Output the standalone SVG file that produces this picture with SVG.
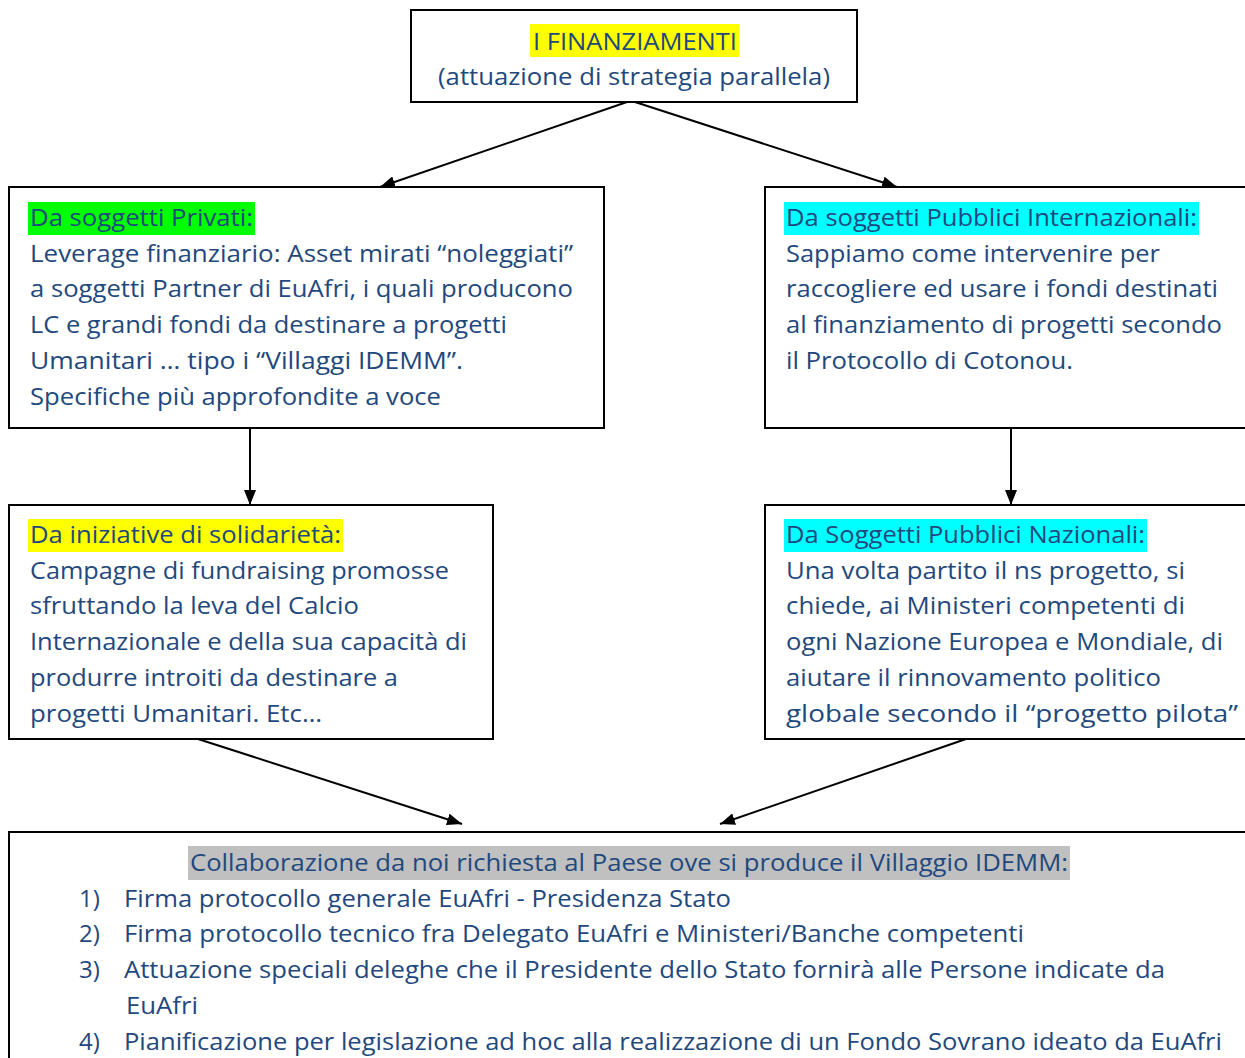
<svg xmlns="http://www.w3.org/2000/svg" width="1245" height="1058" viewBox="0 0 1245 1058">
<style>
.box{fill:#fff;stroke:#000;stroke-width:2}
.t{font-family:"Open Sans","Noto Sans","Liberation Sans",sans-serif;font-size:24px;fill:#1F497D}
.con{stroke:#000;stroke-width:2;fill:none;marker-end:url(#ah)}
</style>
<defs>
<marker id="ah" markerUnits="userSpaceOnUse" markerWidth="16" markerHeight="12" refX="15" refY="6" orient="auto">
<path d="M0,0 L15,6 L0,12 z" fill="#000"/>
</marker>
</defs>
<rect width="1245" height="1058" fill="#fff"/>
<g id="n-top">
<rect class="box" x="411" y="10" width="446" height="92"/>
<rect x="530" y="24" width="209" height="33" fill="#FFFF00"/>
<text class="t" x="533" y="50" textLength="204" lengthAdjust="spacingAndGlyphs">I FINANZIAMENTI</text>
<text class="t" x="438" y="85" textLength="392" lengthAdjust="spacingAndGlyphs">(attuazione di strategia parallela)</text>
</g>
<g id="n-privati">
<rect class="box" x="9" y="187" width="595" height="241"/>
<rect x="28" y="202" width="227" height="33" fill="#00FF00"/>
<text class="t" x="30" y="226" textLength="223" lengthAdjust="spacingAndGlyphs">Da soggetti Privati:</text>
<text class="t" x="30" y="262" textLength="543" lengthAdjust="spacingAndGlyphs">Leverage finanziario: Asset mirati “noleggiati”</text>
<text class="t" x="30" y="297" textLength="543" lengthAdjust="spacingAndGlyphs">a soggetti Partner di EuAfri, i quali producono</text>
<text class="t" x="30" y="333" textLength="477" lengthAdjust="spacingAndGlyphs">LC e grandi fondi da destinare a progetti</text>
<text class="t" x="30" y="369" textLength="433" lengthAdjust="spacingAndGlyphs">Umanitari … tipo i “Villaggi IDEMM”.</text>
<text class="t" x="30" y="405" textLength="411" lengthAdjust="spacingAndGlyphs">Specifiche più approfondite a voce</text>
</g>
<g id="n-internazionali">
<rect class="box" x="765" y="187" width="490" height="241"/>
<rect x="784" y="202" width="415" height="33" fill="#00FFFF"/>
<text class="t" x="786" y="226" textLength="411" lengthAdjust="spacingAndGlyphs">Da soggetti Pubblici Internazionali:</text>
<text class="t" x="786" y="262" textLength="374" lengthAdjust="spacingAndGlyphs">Sappiamo come intervenire per</text>
<text class="t" x="786" y="297" textLength="432" lengthAdjust="spacingAndGlyphs">raccogliere ed usare i fondi destinati</text>
<text class="t" x="786" y="333" textLength="436" lengthAdjust="spacingAndGlyphs">al finanziamento di progetti secondo</text>
<text class="t" x="786" y="369" textLength="287" lengthAdjust="spacingAndGlyphs">il Protocollo di Cotonou.</text>
</g>
<g id="n-solidarieta">
<rect class="box" x="9" y="505" width="484" height="234"/>
<rect x="28" y="519" width="315" height="33" fill="#FFFF00"/>
<text class="t" x="30" y="543" textLength="311" lengthAdjust="spacingAndGlyphs">Da iniziative di solidarietà:</text>
<text class="t" x="30" y="579" textLength="419" lengthAdjust="spacingAndGlyphs">Campagne di fundraising promosse</text>
<text class="t" x="30" y="614" textLength="329" lengthAdjust="spacingAndGlyphs">sfruttando la leva del Calcio</text>
<text class="t" x="30" y="650" textLength="437" lengthAdjust="spacingAndGlyphs">Internazionale e della sua capacità di</text>
<text class="t" x="30" y="686" textLength="368" lengthAdjust="spacingAndGlyphs">produrre introiti da destinare a</text>
<text class="t" x="30" y="722" textLength="292" lengthAdjust="spacingAndGlyphs">progetti Umanitari. Etc…</text>
</g>
<g id="n-nazionali">
<rect class="box" x="765" y="505" width="490" height="234"/>
<rect x="784" y="519" width="363" height="33" fill="#00FFFF"/>
<text class="t" x="786" y="543" textLength="359" lengthAdjust="spacingAndGlyphs">Da Soggetti Pubblici Nazionali:</text>
<text class="t" x="786" y="579" textLength="399" lengthAdjust="spacingAndGlyphs">Una volta partito il ns progetto, si</text>
<text class="t" x="786" y="614" textLength="399" lengthAdjust="spacingAndGlyphs">chiede, ai Ministeri competenti di</text>
<text class="t" x="786" y="650" textLength="437" lengthAdjust="spacingAndGlyphs">ogni Nazione Europea e Mondiale, di</text>
<text class="t" x="786" y="686" textLength="375" lengthAdjust="spacingAndGlyphs">aiutare il rinnovamento politico</text>
<text class="t" x="786" y="722" textLength="452" lengthAdjust="spacingAndGlyphs">globale secondo il “progetto pilota”</text>
</g>
<g id="n-collaborazione">
<rect class="box" x="9" y="832" width="1250" height="240"/>
<rect x="188" y="846" width="882" height="34" fill="#C0C0C0"/>
<text class="t" x="190" y="871" textLength="878" lengthAdjust="spacingAndGlyphs">Collaborazione da noi richiesta al Paese ove si produce il Villaggio IDEMM:</text>
<text class="t" x="79" y="907">1)</text>
<text class="t" x="124" y="907" textLength="607" lengthAdjust="spacingAndGlyphs">Firma protocollo generale EuAfri - Presidenza Stato</text>
<text class="t" x="79" y="942">2)</text>
<text class="t" x="124" y="942" textLength="900" lengthAdjust="spacingAndGlyphs">Firma protocollo tecnico fra Delegato EuAfri e Ministeri/Banche competenti</text>
<text class="t" x="79" y="978">3)</text>
<text class="t" x="124" y="978" textLength="1041" lengthAdjust="spacingAndGlyphs">Attuazione speciali deleghe che il Presidente dello Stato fornirà alle Persone indicate da</text>
<text class="t" x="126" y="1014" textLength="72" lengthAdjust="spacingAndGlyphs">EuAfri</text>
<text class="t" x="79" y="1050">4)</text>
<text class="t" x="124" y="1050" textLength="1098" lengthAdjust="spacingAndGlyphs">Pianificazione per legislazione ad hoc alla realizzazione di un Fondo Sovrano ideato da EuAfri</text>
</g>
<g id="connectors">
<line class="con" x1="627" y1="102" x2="380" y2="187"/>
<line class="con" x1="635" y1="102" x2="897" y2="187"/>
<line class="con" x1="250" y1="428" x2="250" y2="505"/>
<line class="con" x1="1011" y1="428" x2="1011" y2="505"/>
<line class="con" x1="198" y1="739" x2="462" y2="824"/>
<line class="con" x1="966" y1="739" x2="720" y2="824"/>
</g>
</svg>
